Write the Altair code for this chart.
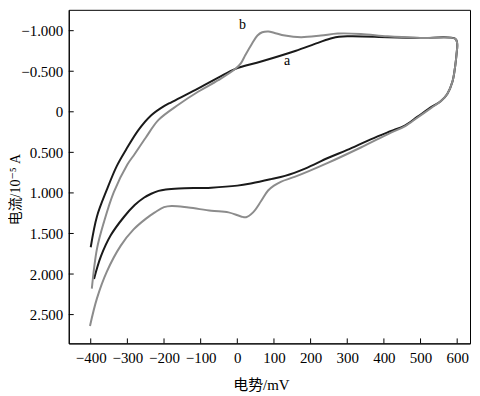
import altair as alt
import pandas as pd

# curve a (black): potential (mV), current (10^-5 A), in sweep order
a_x = [-400, -383, -356, -329, -304, -269, -234, -200, -179, -114, -52, -5, 65, 158, 220, 260, 300, 410, 500, 595,
       600, 598, 595, 587, 573, 555, 530, 492, 457, 418, 364, 300, 247, 185, 130, 92, 40, 0, -71, -160, -195, -215,
       -235, -255, -280, -310, -345, -372, -391]
a_y = [1.67, 1.29, 0.96, 0.67, 0.47, 0.22, 0.04, -0.07, -0.12, -0.27, -0.42, -0.53, -0.62, -0.75, -0.85, -0.91,
       -0.93, -0.92, -0.91, -0.90,
       -0.84, -0.70, -0.58, -0.37, -0.22, -0.13, -0.06, 0.06, 0.17, 0.24, 0.34, 0.47, 0.57, 0.70, 0.79, 0.83, 0.88,
       0.91, 0.935, 0.945, 0.958, 0.975, 1.01, 1.06, 1.15, 1.30, 1.52, 1.78, 2.06]

# curve b (gray)
b_x = [-397, -383, -364, -337, -300, -280, -250, -215, -160, -106, -52, -5, 10, 22, 40, 55, 68, 85, 100, 130, 174, 228,
       274, 337, 410, 500, 595,
       600, 598, 595, 587, 573, 555, 530, 492, 457, 418, 337, 247, 158, 120, 100, 84, 65, 43, 24, 10, -24, -71, -133,
       -179, -200, -225, -250, -283, -318, -356, -383, -402]
b_y = [2.18, 1.69, 1.36, 0.99, 0.65, 0.52, 0.32, 0.10, -0.09, -0.25, -0.39, -0.53, -0.60, -0.70, -0.84, -0.94, -0.98,
       -0.99, -0.975, -0.94, -0.92, -0.94, -0.965, -0.96, -0.93, -0.91, -0.90,
       -0.84, -0.70, -0.58, -0.37, -0.22, -0.13, -0.05, 0.07, 0.18, 0.26, 0.44, 0.63, 0.80, 0.86, 0.91, 0.97, 1.10,
       1.24, 1.30, 1.29, 1.24, 1.22, 1.18, 1.16, 1.175, 1.24, 1.32, 1.45, 1.65, 1.97, 2.30, 2.64]

x_ticks = [-400, -300, -200, -100, 0, 100, 200, 300, 400, 500, 600]
y_ticks = [-1.0, -0.5, 0.0, 0.5, 1.0, 1.5, 2.0, 2.5]

label_names = ["a", "b"]
label_x = [136, 14]
label_y = [-0.63, -1.07]

X_DOMAIN = [-460, 635]
Y_DOMAIN = [-1.257, 2.855]
W, H = 403, 335
SERIF = "Liberation Serif, DejaVu Serif, Noto Sans CJK SC"

rows = []
for i, (x, y) in enumerate(zip(a_x, a_y)):
    rows.append({"E": x, "I": y, "curve": "a", "idx": i})
for i, (x, y) in enumerate(zip(b_x, b_y)):
    rows.append({"E": x, "I": y, "curve": "b", "idx": i})
df = pd.DataFrame(rows)

xs = alt.Scale(domain=X_DOMAIN, nice=False, zero=False)
ys = alt.Scale(domain=Y_DOMAIN, nice=False, zero=False, reverse=True)

lines = alt.Chart(df).mark_line(strokeWidth=2, interpolate="catmull-rom").encode(
    x=alt.X("E:Q", scale=xs, axis=alt.Axis(
        values=x_ticks, tickSize=0, labelPadding=7, grid=False, domainColor="black",
        labelFont=SERIF, labelFontSize=15, labelColor="black",
        title="电势/mV", titleFont=SERIF, titleFontSize=15, titleFontWeight="normal", titleColor="black",
        titleX=193, titleY=41, titleBaseline="middle", titleAlign="center")),
    y=alt.Y("I:Q", scale=ys, axis=alt.Axis(
        values=y_ticks, tickSize=0, labelPadding=6, grid=False, domainColor="black",
        labelFont=SERIF, labelFontSize=15, labelColor="black",
        labelExpr="datum.value == 0 ? '0' : format(datum.value, '.3f')",
        title="电流/10⁻⁵ A", titleFont=SERIF, titleFontSize=14, titleFontWeight="normal", titleColor="black",
        titleX=-53, titleY=180, titleAngle=-90, titleBaseline="middle", titleAlign="center")),
    color=alt.Color("curve:N", scale=alt.Scale(domain=["a", "b"], range=["#1a1a1a", "#8c8c8c"]), legend=None),
    order="idx:Q",
)

xt = alt.Chart(pd.DataFrame({"t": x_ticks})).mark_rule(color="black", strokeWidth=1).encode(
    x=alt.X("t:Q", scale=xs), y=alt.value(H), y2=alt.value(H - 5))
yt = alt.Chart(pd.DataFrame({"t": y_ticks})).mark_rule(color="black", strokeWidth=1).encode(
    y=alt.Y("t:Q", scale=ys), x=alt.value(0), x2=alt.value(5))

labels = alt.Chart(pd.DataFrame({"n": label_names, "x": label_x, "y": label_y})).mark_text(
    font=SERIF, fontSize=14, color="black").encode(
    x=alt.X("x:Q", scale=xs), y=alt.Y("y:Q", scale=ys), text="n:N")

chart = alt.layer(lines, xt, yt, labels).properties(
    width=W, height=H,
    autosize=alt.AutoSizeParams(type="none"),
    padding={"left": 61, "top": 1, "right": 2, "bottom": 52},
).configure_view(stroke="black", strokeWidth=1).configure_axis(domainWidth=1)

chart.save("out.html", embed_options={"renderer": "svg", "actions": False})
